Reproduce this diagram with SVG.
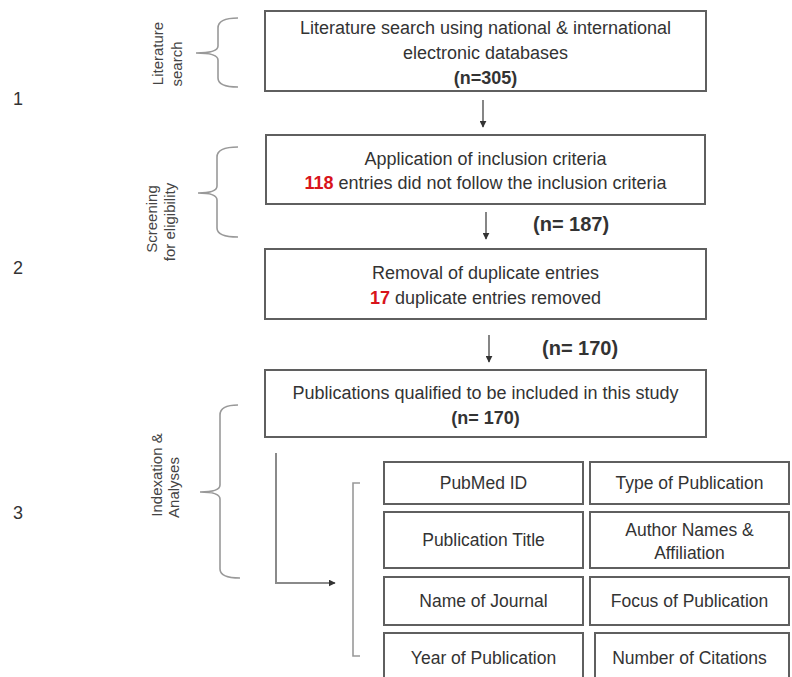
<svg xmlns="http://www.w3.org/2000/svg" width="792" height="677" viewBox="0 0 792 677">
<defs>
<marker id="ah" viewBox="0 0 10 10" refX="9" refY="5" markerWidth="7" markerHeight="7" markerUnits="userSpaceOnUse" orient="auto">
<path d="M0,0 L10,5 L0,10 z" fill="#333"/>
</marker>
<style>
text{font-family:"Liberation Sans",Arial,sans-serif;fill:#333}
.box{fill:#fff;stroke:#5f5f5f;stroke-width:2}
.cell{fill:#fff;stroke:#5f5f5f;stroke-width:2}
.t{font-size:18px;text-anchor:middle}
.c{font-size:17.5px;text-anchor:middle}
.b{font-weight:bold}
.red{fill:#d8141b;font-weight:bold}
.n{font-size:20px;font-weight:bold}
.lab{font-size:15px;text-anchor:middle;fill:#444}
.num{font-size:18px;text-anchor:middle}
.brace{fill:none;stroke:#999;stroke-width:1.6}
.arr{fill:none;stroke:#444;stroke-width:1.3}
.elb{fill:none;stroke:#8a8a8a;stroke-width:2}
</style>
</defs>
<rect width="792" height="677" fill="#fff"/>

<g id="stage-numbers">
<text class="num" x="18" y="105">1</text>
<text class="num" x="18" y="274">2</text>
<text class="num" x="18" y="519">3</text>
</g>

<g id="label-literature">
<text class="lab" transform="translate(163,53.5) rotate(-90)">Literature</text>
<text class="lab" transform="translate(182,64) rotate(-90)">search</text>
<path class="brace" d="M238,18 Q218,18 218,28 L218,46 Q218,53 196,53 Q218,53 218,60 L218,78 Q218,87 238,87"/>
</g>

<g id="label-screening">
<text class="lab" transform="translate(157,219) rotate(-90)">Screening</text>
<text class="lab" transform="translate(175,222) rotate(-90)">for eligibility</text>
<path class="brace" d="M238,147 Q217,147 217,157 L217,186 Q217,193 198,193 Q217,193 217,200 L217,228 Q217,237 238,237"/>
</g>

<g id="label-indexation">
<text class="lab" transform="translate(162,475) rotate(-90)">Indexation &amp;</text>
<text class="lab" transform="translate(179,487.5) rotate(-90)">Analyses</text>
<path class="brace" d="M238,405 Q220,405 220,415 L220,485 Q220,492 200,492 Q220,492 220,499 L220,569 Q220,578 240,578"/>
</g>

<g id="box-search">
<rect class="box" x="265" y="11" width="441" height="80"/>
<text class="t" x="485.5" y="34">Literature search using national &amp; international</text>
<text class="t" x="485.5" y="59">electronic databases</text>
<text class="t b" x="485.5" y="84">(n=305)</text>
</g>

<g id="box-inclusion">
<rect class="box" x="266" y="135" width="439" height="69"/>
<text class="t" x="485.5" y="165">Application of inclusion criteria</text>
<text class="t" x="485.5" y="189"><tspan class="red">118</tspan> entries did not follow the inclusion criteria</text>
</g>

<g id="box-duplicates">
<rect class="box" x="265" y="249" width="441" height="70"/>
<text class="t" x="485.5" y="279">Removal of duplicate entries</text>
<text class="t" x="485.5" y="304"><tspan class="red">17</tspan> duplicate entries removed</text>
</g>

<g id="box-qualified">
<rect class="box" x="265" y="370" width="441" height="67"/>
<text class="t" x="485.5" y="399">Publications qualified to be included in this study</text>
<text class="t b" x="485.5" y="424">(n= 170)</text>
</g>

<g id="count-labels">
<text class="n" x="533" y="231">(n= 187)</text>
<text class="n" x="542" y="355">(n= 170)</text>
</g>

<g id="grid">
<path class="brace" d="M360,483 L353,483 L353,656 L360,656"/>
<g id="cell-pubmed"><rect class="cell" x="384" y="462" width="199" height="42"/><text class="c" x="483.5" y="489">PubMed ID</text></g>
<g id="cell-type"><rect class="cell" x="590" y="462" width="199" height="42"/><text class="c" x="689.5" y="489">Type of Publication</text></g>
<g id="cell-title"><rect class="cell" x="384" y="512" width="199" height="56"/><text class="c" x="483.5" y="546">Publication Title</text></g>
<g id="cell-author"><rect class="cell" x="590" y="512" width="199" height="56"/><text class="c" x="689.5" y="536">Author Names &amp;</text><text class="c" x="689.5" y="559">Affiliation</text></g>
<g id="cell-journal"><rect class="cell" x="384" y="577" width="199" height="48"/><text class="c" x="483.5" y="607">Name of Journal</text></g>
<g id="cell-focus"><rect class="cell" x="590" y="577" width="199" height="48"/><text class="c" x="689.5" y="607">Focus of Publication</text></g>
<g id="cell-year"><rect class="cell" x="384" y="633" width="199" height="60"/><text class="c" x="483.5" y="664">Year of Publication</text></g>
<g id="cell-citations"><rect class="cell" x="595" y="633" width="194" height="60"/><text class="c" x="689.5" y="664">Number of Citations</text></g>
</g>

<g id="connectors">
<line class="arr" x1="483" y1="100" x2="483" y2="127" marker-end="url(#ah)"/>
<line class="arr" x1="486" y1="212" x2="486" y2="239" marker-end="url(#ah)"/>
<line class="arr" x1="489" y1="335" x2="489" y2="362" marker-end="url(#ah)"/>
<path class="elb" d="M276,453 L276,583 L335,583" marker-end="url(#ah)"/>
</g>
</svg>
